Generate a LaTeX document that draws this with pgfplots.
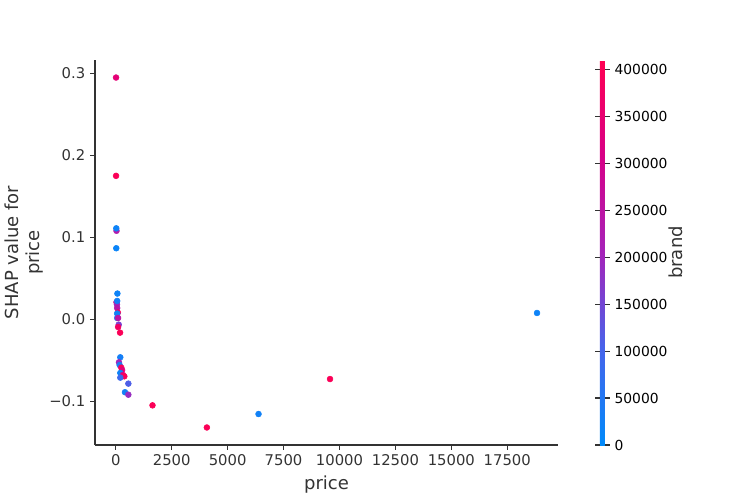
\documentclass[border=0pt]{standalone}
\usepackage{pgfplots}
\pgfplotsset{compat=1.18}
\usepackage{fontspec}
\setmainfont{DejaVu Sans}
\definecolor{txt}{gray}{0.2}
\begin{document}
\begin{tikzpicture}[x=1bp,y=1bp]
\path[use as bounding box] (0,0) rectangle (540,360);
\begin{axis}[
  at={(68.4bp,39.6bp)}, anchor=south west,
  scale only axis, width=333.4bp, height=277.2bp,
  xmin=-931, xmax=19771, ymin=-0.1534, ymax=0.3164,
  axis x line*=bottom, axis y line*=left,
  axis line style={-, draw=txt, line width=0.8bp},
  tick align=outside, major tick length=3.5bp,
  tick style={draw=txt, line width=0.8bp},
  scaled x ticks=false, scaled y ticks=false,
  xtick={0,2500,5000,7500,10000,12500,15000,17500},
  xticklabels={0,2500,5000,7500,10000,12500,15000,17500},
  ytick={-0.1,0,0.1,0.2,0.3},
  yticklabels={−0.1,0.0,0.1,0.2,0.3},
  ticklabel style={font=\fontsize{10.7}{13}\selectfont, text=txt},
  xlabel={price}, ylabel={SHAP value for\\price},
  label style={font=\fontsize{13}{15.5}\selectfont, text=txt},
  ylabel style={align=center, yshift=-2.5bp},
  colormap={shap}{rgb255=(0,138,250) rgb255=(70,100,235) rgb255=(165,35,185) rgb255=(215,0,135) rgb255=(255,0,82)},
  point meta min=0, point meta max=410000,
  colorbar right,
  colorbar style={
    at={(parent axis.north east)}, anchor=north west, xshift=21.6bp,
    width=3.6bp,
    axis line style={draw=none},
    ytick={0,50000,...,400000},
    yticklabels={0,50000,100000,150000,200000,250000,300000,350000,400000},
    scaled y ticks=false,
    tick align=outside, major tick length=3.5bp,
    ytick style={draw=txt, line width=0.8bp},
    yticklabel pos=right,
    yticklabel style={font=\fontsize{10}{12}\selectfont, text=black},
    ylabel={brand},
    ylabel style={font=\fontsize{13}{15.5}\selectfont, text=txt, at={(axis description cs:1,0.5)}, anchor=center, yshift=-51bp},
  },
]
\addplot[scatter, only marks, mark=*, mark size=2.1bp,
  scatter/use mapped color={draw=mapped color, fill=mapped color},
  point meta=explicit] table[meta=c] {
x y c
10 0.295 340000
10 0.175 400000
30 0.108 230000
20 0.111 20000
20 0.0867 15000
70 0.0314 20000
30 0.0208 290000
50 0.018 200000
60 0.0224 30000
60 0.0137 240000
90 0.0082 400000
60 0.007 20000
60 0.0016 70000
100 0.0016 250000
130 -0.0065 160000
100 -0.0094 380000
190 -0.0163 400000
200 -0.0464 30000
140 -0.0525 200000
170 -0.0558 40000
245 -0.059 400000
280 -0.062 330000
200 -0.0655 20000
320 -0.068 330000
380 -0.0696 400000
200 -0.0712 90000
560 -0.0785 110000
410 -0.089 30000
560 -0.092 190000
1640 -0.105 400000
4070 -0.132 400000
6380 -0.1156 25000
9576 -0.0729 400000
18830 0.0077 20000
};
\end{axis}
\end{tikzpicture}
\end{document}
